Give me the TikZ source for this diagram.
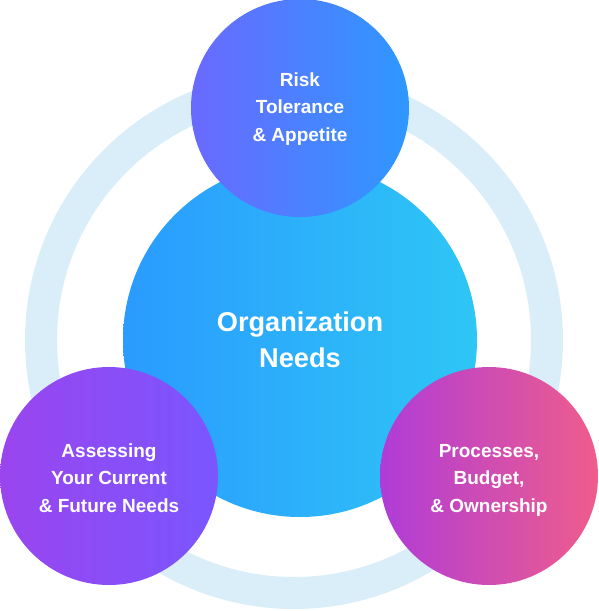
\documentclass[tikz,border=0pt]{standalone}
\usepackage{fontspec}
\setmainfont{Liberation Sans}
\definecolor{ringc}{HTML}{D9EEF9}
\definecolor{topL}{HTML}{6A69FF}
\definecolor{topR}{HTML}{2E98FF}
\definecolor{midL}{HTML}{2A9BFF}
\definecolor{midR}{HTML}{2EC6F5}
\definecolor{blL}{HTML}{9A45EE}
\definecolor{blR}{HTML}{7A56FF}
\definecolor{brL}{HTML}{B03CD8}
\definecolor{brR}{HTML}{EF5D8B}
\tikzset{
  bubble/.style={circle, draw=none, inner sep=0pt, minimum size=218pt},
  bigbubble/.style={circle, draw=none, inner sep=0pt, minimum size=354pt},
  smalltext/.style={text=white, align=center, inner sep=0pt, font=\bfseries\fontsize{19}{27.5}\selectfont},
  bigtext/.style={text=white, align=center, inner sep=0pt, font=\bfseries\fontsize{27.2}{36}\selectfont},
  ringstyle/.style={circle, draw=ringc, line width=32pt, inner sep=0pt, minimum size=506pt}
}
\begin{document}
\begin{tikzpicture}[x=1pt,y=-1pt]
\useasboundingbox (0,0) rectangle (598,611);
\node[ringstyle] (ring) at (294,340) {};
\node[bigbubble, left color=midL, right color=midR] (center) at (300,340) {};
\node[bigtext] (centertext) at (center.center) {Organization\\Needs};
\node[bubble, left color=topL, right color=topR] (top) at (300,108) {};
\node[smalltext] (toptext) at ([yshift=-1pt]top.center) {Risk\\Tolerance\\\& Appetite};
\node[bubble, left color=blL, right color=blR] (left) at (109,476) {};
\node[smalltext] (lefttext) at ([yshift=-2pt]left.center) {Assessing\\Your Current\\\& Future Needs};
\node[bubble, left color=brL, right color=brR] (right) at (489,476) {};
\node[smalltext] (righttext) at ([yshift=-4pt]right.center) {Processes,\\Budget,\\\& Ownership};
\end{tikzpicture}
\end{document}
